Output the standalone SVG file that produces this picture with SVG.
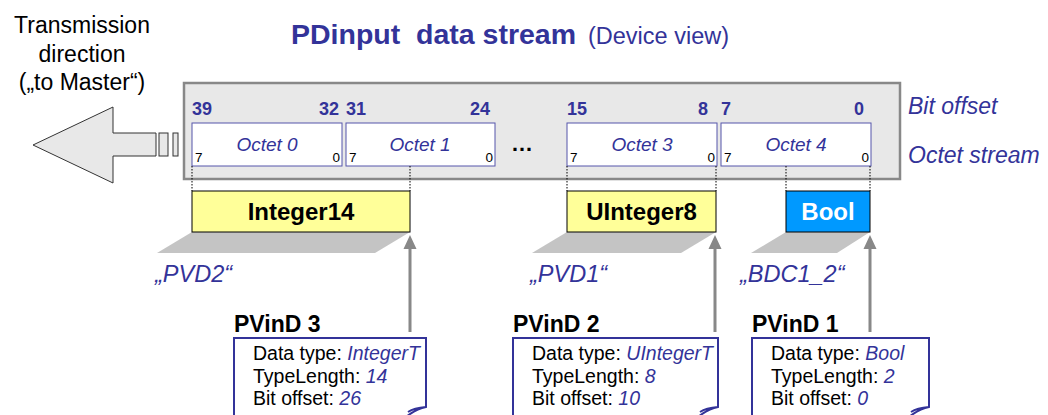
<svg xmlns="http://www.w3.org/2000/svg" width="1048" height="415" viewBox="0 0 1048 415">
<style>
text{font-family:"Liberation Sans",Arial,sans-serif}
.blue{fill:#333399}
.bnum{font-size:18px;font-weight:bold;fill:#333399}
.olab{font-size:19px;font-style:italic;fill:#333399;text-anchor:middle}
.small{font-size:13.5px;fill:#000}
.octet{fill:#fff;stroke:#5555aa;stroke-width:1}
.dot{stroke:#000;stroke-width:1;stroke-dasharray:1.5 1.5;fill:none}
.dtype{stroke:#000;stroke-width:1}
.dtext{font-size:24px;font-weight:bold;text-anchor:middle}
.shadow{fill:#c4c4c4}
.pvd{font-size:23.5px;font-style:italic;fill:#333399}
.garrow{stroke:#888;stroke-width:3;fill:none}
.ghead{fill:#888}
.head{font-size:23px;font-weight:bold;fill:#000}
.card{fill:#fff;stroke:#333399;stroke-width:2}
.ct{font-size:19.5px;fill:#000}
.cv{font-style:italic;fill:#333399}
</style>

<g id="title">
<text x="291" y="44" class="blue" style="font-size:28.5px;font-weight:bold;white-space:pre" xml:space="preserve">PDinput  data stream</text>
<text x="588" y="44" class="blue" style="font-size:23.5px">(Device view)</text>
</g>

<g id="direction">
<text x="82" y="33" style="font-size:23px;text-anchor:middle">Transmission</text>
<text x="82" y="62" style="font-size:23px;text-anchor:middle">direction</text>
<text x="82" y="90" style="font-size:23px;text-anchor:middle">(„to Master“)</text>
<path d="M33,145 L113,107 L113,133 L156,133 L156,156 L113,156 L113,183 Z" fill="#e8e8e8" stroke="#333" stroke-width="1"/>
<rect x="159" y="133" width="9" height="23" fill="#e8e8e8" stroke="#333" stroke-width="1"/>
<rect x="173" y="133" width="5" height="23" fill="#e8e8e8" stroke="#333" stroke-width="1"/>
</g>

<g id="stream">
<rect x="184" y="83" width="716" height="96" fill="#e8e8e8" stroke="#888" stroke-width="2.5"/>
<text x="192" y="115" class="bnum">39</text>
<text x="339" y="115" class="bnum" text-anchor="end">32</text>
<text x="346" y="115" class="bnum">31</text>
<text x="490" y="115" class="bnum" text-anchor="end">24</text>
<text x="567" y="115" class="bnum">15</text>
<text x="708" y="115" class="bnum" text-anchor="end">8</text>
<text x="721" y="115" class="bnum">7</text>
<text x="864" y="115" class="bnum" text-anchor="end">0</text>
<text x="511" y="151" style="font-size:22px;font-weight:bold">…</text>
</g>

<g id="octet0">
<rect x="192" y="123" width="150" height="43" class="octet"/>
<text x="267" y="151" class="olab">Octet 0</text>
<text x="195" y="162" class="small">7</text>
<text x="340" y="162" class="small" text-anchor="end">0</text>
</g>
<g id="octet1">
<rect x="346" y="123" width="149" height="43" class="octet"/>
<text x="420" y="151" class="olab">Octet 1</text>
<text x="349" y="162" class="small">7</text>
<text x="493" y="162" class="small" text-anchor="end">0</text>
</g>
<g id="octet3">
<rect x="567" y="123" width="150" height="43" class="octet"/>
<text x="642" y="151" class="olab">Octet 3</text>
<text x="570" y="162" class="small">7</text>
<text x="715" y="162" class="small" text-anchor="end">0</text>
</g>
<g id="octet4">
<rect x="721" y="123" width="150" height="43" class="octet"/>
<text x="796" y="151" class="olab">Octet 4</text>
<text x="724" y="162" class="small">7</text>
<text x="869" y="162" class="small" text-anchor="end">0</text>
</g>

<g id="labels-right">
<text x="908" y="114" class="blue" style="font-size:23px;font-style:italic">Bit offset</text>
<text x="908" y="163" class="blue" style="font-size:23px;font-style:italic">Octet stream</text>
</g>

<g id="connectors">
<path class="dot" d="M192,166 V191 M410,166 V191 M567,166 V191 M716,166 V191 M786,166 V191 M870,166 V191"/>
<path class="garrow" d="M410,248 V332 M715,248 V332 M870,248 V332"/>
<path class="ghead" d="M410,235 L416.5,249 L403.5,249 Z M715,235 L721.5,249 L708.5,249 Z M870,235 L876.5,249 L863.5,249 Z"/>
</g>

<g id="integer14">
<polygon class="shadow" points="192,232 410,232 375,253 157,253"/>
<rect x="192" y="191" width="218" height="41" fill="#ffff99" class="dtype"/>
<text x="301" y="220" class="dtext">Integer14</text>
<text x="155" y="282" class="pvd">„PVD2“</text>
</g>
<g id="uinteger8">
<polygon class="shadow" points="567,232 716,232 681,253 532,253"/>
<rect x="567" y="191" width="149" height="41" fill="#ffff99" class="dtype"/>
<text x="641.5" y="220" class="dtext">UInteger8</text>
<text x="530" y="282" class="pvd">„PVD1“</text>
</g>
<g id="bool">
<polygon class="shadow" points="786,232 870,232 837,253 751,253"/>
<rect x="786" y="191" width="84" height="41" fill="#0099ff" class="dtype"/>
<text x="828" y="220" class="dtext" fill="#fff">Bool</text>
<text x="740" y="282" class="pvd">„BDC1_2“</text>
</g>

<g id="pvind3">
<text x="234" y="332" class="head">PVinD 3</text>
<path class="card" d="M234,420 V338 H426 V407 Q416,409 406,417 M426,407 Q414,408 408,412"/>
<text x="253" y="360" class="ct">Data type: <tspan class="cv">IntegerT</tspan></text>
<text x="253" y="382.5" class="ct">TypeLength: <tspan class="cv">14</tspan></text>
<text x="253" y="405" class="ct">Bit offset: <tspan class="cv">26</tspan></text>
</g>
<g id="pvind2">
<text x="513" y="332" class="head">PVinD 2</text>
<path class="card" d="M513,420 V338 H718 V407 Q708,409 698,417 M718,407 Q706,408 700,412"/>
<text x="532" y="360" class="ct">Data type: <tspan class="cv">UIntegerT</tspan></text>
<text x="532" y="382.5" class="ct">TypeLength: <tspan class="cv">8</tspan></text>
<text x="532" y="405" class="ct">Bit offset: <tspan class="cv">10</tspan></text>
</g>
<g id="pvind1">
<text x="752" y="332" class="head">PVinD 1</text>
<path class="card" d="M752,420 V338 H929 V407 Q919,409 909,417 M929,407 Q917,408 911,412"/>
<text x="771" y="360" class="ct">Data type: <tspan class="cv">Bool</tspan></text>
<text x="771" y="382.5" class="ct">TypeLength: <tspan class="cv">2</tspan></text>
<text x="771" y="405" class="ct">Bit offset: <tspan class="cv">0</tspan></text>
</g>
</svg>
